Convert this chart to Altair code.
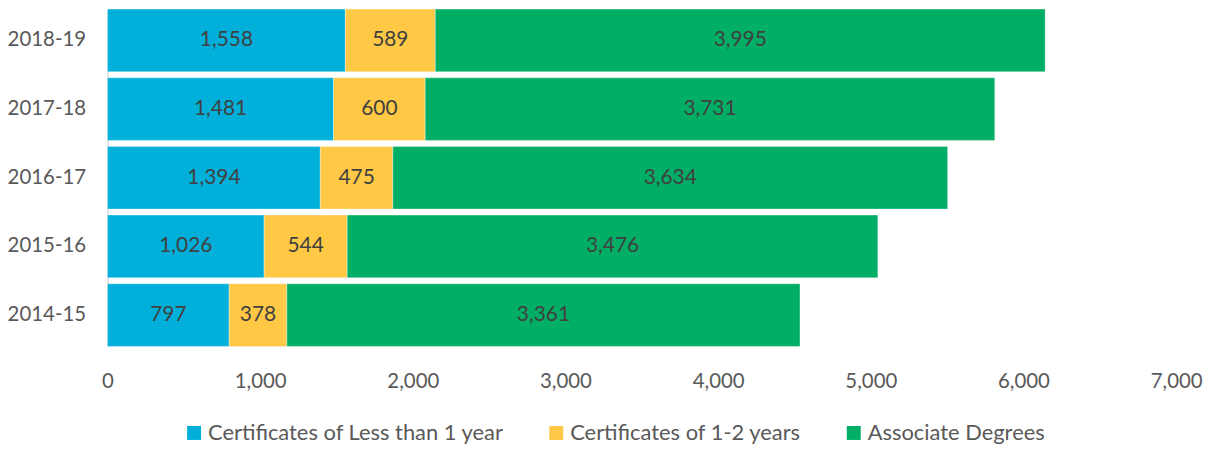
import altair as alt
import pandas as pd

years = ["2018-19", "2017-18", "2016-17", "2015-16", "2014-15"]
series = ["Certificates of Less than 1 year", "Certificates of 1-2 years", "Associate Degrees"]
less_than_1 = [1558, 1481, 1394, 1026, 797]
one_to_two = [589, 600, 475, 544, 378]
associate = [3995, 3731, 3634, 3476, 3361]
colors = ["#00B0DA", "#FFC845", "#00AE66"]
x_ticks = [0, 1000, 2000, 3000, 4000, 5000, 6000, 7000]

rows = []
for i, y in enumerate(years):
    for k, vals in enumerate([less_than_1, one_to_two, associate]):
        rows.append({"year": y, "series": series[k], "order": k, "value": vals[i]})
df = pd.DataFrame(rows)

FONT = "Lato"

base = alt.Chart(df).transform_stack(
    stack="value", groupby=["year"], as_=["x0", "x1"], sort=[{"field": "order", "order": "ascending"}]
).transform_calculate(mid="(datum.x0 + datum.x1) / 2")

y_enc = alt.Y(
    "year:N", sort=years, title=None,
    scale=alt.Scale(paddingInner=0.087, paddingOuter=0),
    axis=alt.Axis(ticks=False, labelPadding=22, labelFontSize=20.5, labelColor="#595959",
                  labelFont=FONT, domainColor="#D9D9D9", domainWidth=1.5),
)

bars = base.mark_bar(stroke="white", strokeWidth=0.6, strokeOpacity=0.6).encode(
    x=alt.X("x0:Q", scale=alt.Scale(domain=[0, 7000], nice=False), title=None,
            axis=alt.Axis(values=x_ticks, format=",d", grid=False, ticks=False, domain=False,
                          labelFlush=False, labelPadding=25, labelFontSize=20.5,
                          labelColor="#595959", labelFont=FONT)),
    x2="x1:Q",
    y=y_enc,
    color=alt.Color("series:N", sort=series, scale=alt.Scale(domain=series, range=colors),
                    legend=alt.Legend(title=None, orient="none", direction="horizontal",
                                      legendX=76, legendY=415, symbolType="square", symbolSize=196,
                                      symbolStrokeWidth=0, labelFontSize=22, labelColor="#595959",
                                      labelFont=FONT, columnPadding=41, symbolOffset=0,
                                      labelOffset=3, labelLimit=0)),
)

text = base.mark_text(fontSize=21, color="#404040", font=FONT).encode(
    x="mid:Q",
    y=alt.Y("year:N", sort=years),
    text=alt.Text("value:Q", format=",d"),
)

chart = alt.layer(bars, text).properties(
    width=1074, height=339,
    padding={"left": 100, "top": 0, "right": 30, "bottom": 100},
    autosize=alt.AutoSizeParams(type="none"),
).configure_view(stroke=None)

chart.save("out.html", embed_options={"renderer": "svg", "actions": False})
